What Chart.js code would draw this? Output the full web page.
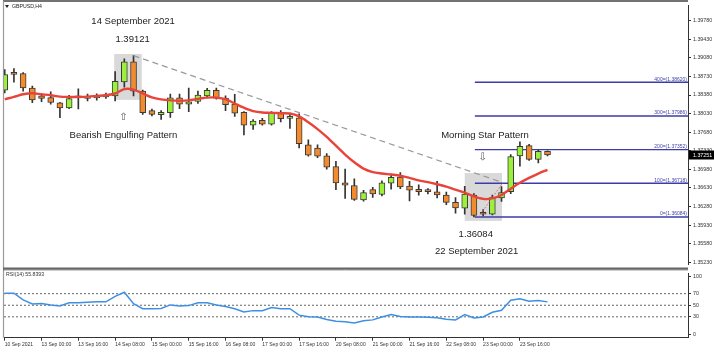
<!DOCTYPE html>
<html lang="en">
<head>
<meta charset="UTF-8">
<title>GBPUSD H4</title>
<script src="https://cdn.jsdelivr.net/npm/chart.js"></script>
<style>
    body {
        margin: 0;
        background: #fff;
        width: 714px;
        height: 353px;
        overflow: hidden;
        position: relative;
    }
    #mainChart { position: absolute; left: 0; top: 0; }
    #rsiChart { position: absolute; left: 0; top: 268px; }
</style>
</head>
<body>
<canvas id="mainChart" width="714" height="270"></canvas>
<canvas id="rsiChart" width="714" height="85"></canvas>

<script>
// ---- data (60 candles) ----
const opens = [1.38473,1.38777,1.38786,1.38510,1.38363,1.38332,1.38234,1.38137,1.38345,1.38317,
    1.38326,1.38372,1.38363,1.38629,1.39006,1.38455,1.38087,1.38008,1.38050,1.38326,
    1.38210,1.38258,1.38363,1.38468,1.38321,1.38210,1.38056,1.37812,1.37903,1.37830,
    1.38056,1.37940,1.37953,1.37444,1.37383,1.37233,1.37034,1.36727,1.36677,1.36405,
    1.36598,1.36507,1.36722,1.36837,1.36666,1.36604,1.36571,1.36556,1.36497,1.36360,
    1.36249,1.36494,1.36139,1.36139,1.36442,1.36562,1.37233,1.37426,1.37168,1.37321];
const highs = [1.38859,1.38878,1.38804,1.38547,1.38394,1.38442,1.38243,1.38376,1.38497,1.38400,
    1.38405,1.38418,1.38822,1.39061,1.39121,1.38473,1.38115,1.38087,1.38400,1.38400,
    1.38510,1.38455,1.38504,1.38510,1.38363,1.38394,1.38069,1.37916,1.37940,1.38069,
    1.38087,1.38027,1.38027,1.37536,1.37444,1.37278,1.37131,1.36984,1.36801,1.36586,
    1.36644,1.36764,1.36893,1.36920,1.36755,1.36690,1.36617,1.36755,1.36553,1.36451,
    1.36663,1.36525,1.36222,1.36497,1.36654,1.37260,1.37499,1.37453,1.37343,1.37328];
const lows = [1.38418,1.38620,1.38455,1.38234,1.38253,1.38210,1.37953,1.38124,1.38118,1.38271,
    1.38284,1.38317,1.38271,1.38528,1.38363,1.38014,1.37986,1.37922,1.37959,1.38124,
    1.38069,1.38221,1.38345,1.38302,1.38087,1.37977,1.37628,1.37733,1.37812,1.37812,
    1.37872,1.37751,1.37383,1.37229,1.37199,1.36984,1.36598,1.36433,1.36396,1.36383,
    1.36451,1.36479,1.36608,1.36617,1.36387,1.36494,1.36516,1.36442,1.36314,1.36157,
    1.36139,1.36084,1.36102,1.36121,1.36378,1.36525,1.37040,1.37150,1.37104,1.37233];
const closes = [1.38767,1.38770,1.38515,1.38289,1.38317,1.38240,1.38137,1.38313,1.38326,1.38345,
    1.38363,1.38345,1.38639,1.39006,1.38455,1.38050,1.38014,1.38056,1.38326,1.38210,
    1.38253,1.38381,1.38468,1.38321,1.38198,1.38038,1.37812,1.37891,1.37830,1.38056,
    1.37935,1.37953,1.37462,1.37247,1.37229,1.37021,1.36727,1.36681,1.36415,1.36543,
    1.36516,1.36727,1.36832,1.36648,1.36589,1.36562,1.36562,1.36501,1.36360,1.36255,
    1.36516,1.36111,1.36135,1.36451,1.36543,1.37223,1.37413,1.37168,1.37321,1.37251];
const maValues = [1.38302,1.38345,1.38394,1.38413,1.38394,1.38376,1.38350,1.38345,1.38345,1.38350,
    1.38363,1.38376,1.38409,1.38492,1.38482,1.38409,1.38335,1.38299,1.38280,1.38271,
    1.38280,1.38308,1.38332,1.38332,1.38302,1.38221,1.38142,1.38078,1.38050,1.38045,
    1.38038,1.38032,1.37977,1.37867,1.37738,1.37591,1.37426,1.37260,1.37113,1.36994,
    1.36929,1.36902,1.36883,1.36861,1.36819,1.36773,1.36740,1.36700,1.36654,1.36598,
    1.36543,1.36470,1.36424,1.36433,1.36497,1.36617,1.36727,1.36819,1.36902,1.36972];
const rsiValues = [70.8,70.8,59.3,52.2,53.2,50.6,48.9,54.4,54.4,55.2,
    56.0,56.0,65.4,72.5,52.7,44.0,44.0,44.5,50.6,48.9,
    49.4,54.4,54.4,50.6,47.8,44.0,38.4,40.7,40.7,46.1,
    44.0,44.0,32.9,30.1,29.7,25.5,22.2,21.4,19.3,23.1,
    24.7,29.7,34.1,30.5,29.7,29.7,29.3,28.3,25.9,24.7,
    33.8,28.0,29.7,37.9,41.2,58.8,61.4,56.8,58.2,55.8393];

const xTickBars = [0,4,8,12,16,20,24,28,32,36,40,44,48,52,56];
const xTickLabels = ['10 Sep 2021','13 Sep 00:00','13 Sep 16:00','14 Sep 08:00','15 Sep 00:00',
    '15 Sep 16:00','16 Sep 08:00','17 Sep 00:00','17 Sep 16:00','20 Sep 08:00','21 Sep 00:00',
    '21 Sep 16:00','22 Sep 08:00','23 Sep 00:00','23 Sep 16:00'];
const priceTicks = [1.35230,1.35580,1.35930,1.36280,1.36630,1.36980,1.37330,1.37680,
    1.38030,1.38380,1.38730,1.39080,1.39430,1.39780];
const rsiTicks = [0,30,50,70,100];
const rsiLevels = [70,50,30];

const fibLevels = [0,100,200,300,400];
const fibPrices = [1.36084,1.36718,1.37352,1.37986,1.38620];
const fibStartBar = 51.1;
const fibAnchorBars = [51.5,54.1];
const fibAnchorPrices = [1.36084,1.36718];
const trendBars = [14,54.2];
const trendPrices = [1.39121,1.36727];
const lastPrice = 1.37251;
const rsiLast = '55.8393';

// axis ranges
const xMin = -0.08, xMax = 74.27;
const priceMin = 1.35183, priceMax = 1.40072;
const rsiMin = -6.1, rsiMax = 105.44;

const bullColor = '#9cf03c';
const bearColor = '#f28a2e';
const FONT = '"Liberation Sans", Arial, sans-serif';

// pattern boxes and texts, placed in bar / price units
const patternBoxes = [
    { from: 11.9, to: 14.9, top: 1.39153, bottom: 1.38289 },
    { from: 50.0, to: 54.05, top: 1.36911, bottom: 1.36010 }
];
const notes = [
    { text: '14 September 2021', bar: 13.95, price: 1.39760, size: 9.5 },
    { text: '1.39121', bar: 13.9, price: 1.39423, size: 9.5 },
    { text: '\u21E7', bar: 12.9, price: 1.37964, size: 10, arrow: true },
    { text: 'Bearish Engulfing Pattern', bar: 12.9, price: 1.37628, size: 9.5 },
    { text: 'Morning Star Pattern', bar: 52.2, price: 1.37628, size: 9.5 },
    { text: '\u21E9', bar: 51.95, price: 1.37210, size: 10, arrow: true },
    { text: '1.36084', bar: 51.2, price: 1.35753, size: 9.5 },
    { text: '22 September 2021', bar: 51.3, price: 1.35441, size: 9.5 }
];

function hline(ctx, x0, y0, x1, y1) {
    ctx.beginPath();
    ctx.moveTo(x0, y0);
    ctx.lineTo(x1, y1);
    ctx.stroke();
}

const mainOverlay = {
    id: 'mainOverlay',
    beforeDatasetsDraw(chart) {
        const { ctx, scales: { x, y } } = chart;
        ctx.save();
        ctx.fillStyle = '#d9d9d9';
        patternBoxes.forEach(b => {
            const x0 = x.getPixelForValue(b.from), x1 = x.getPixelForValue(b.to);
            const y0 = y.getPixelForValue(b.top), y1 = y.getPixelForValue(b.bottom);
            ctx.fillRect(x0, y0, x1 - x0, y1 - y0);
        });
        ctx.restore();
    },
    afterDatasetsDraw(chart) {
        const { ctx, chartArea, scales: { x, y } } = chart;
        ctx.save();
        // fibo level captions
        ctx.font = '5px ' + FONT;
        ctx.fillStyle = '#3c3ca8';
        ctx.textAlign = 'right';
        ctx.textBaseline = 'bottom';
        fibLevels.forEach((lv, i) => {
            ctx.fillText(lv + '=(' + fibPrices[i].toFixed(5) + ')', chartArea.right - 1, y.getPixelForValue(fibPrices[i]) - 0.5);
        });
        // annotation texts
        ctx.textAlign = 'center';
        ctx.textBaseline = 'middle';
        notes.forEach(n => {
            ctx.font = n.size + 'px ' + (n.arrow ? '"DejaVu Sans"' : FONT);
            ctx.fillStyle = n.arrow ? '#555' : '#222';
            ctx.fillText(n.text, x.getPixelForValue(n.bar), y.getPixelForValue(n.price));
        });
        // symbol caption
        ctx.fillStyle = '#222';
        ctx.beginPath();
        ctx.moveTo(5, 5); ctx.lineTo(9, 5); ctx.lineTo(7, 8); ctx.closePath();
        ctx.fill();
        ctx.font = '5.2px ' + FONT;
        ctx.textAlign = 'left';
        ctx.fillText('GBPUSD,H4', 12, 6.8);
        ctx.restore();
    },
    afterDraw(chart) {
        const { ctx, chartArea, scales: { y } } = chart;
        ctx.save();
        ctx.lineWidth = 1.5;
        ctx.strokeStyle = '#444';
        hline(ctx, 3, 1, chartArea.right, 1);
        ctx.strokeStyle = '#9a9a9a';
        ctx.lineWidth = 1.2;
        hline(ctx, 3.5, 1, 3.5, 268);
        ctx.strokeStyle = '#666';
        ctx.lineWidth = 1.5;
        hline(ctx, 3, 268.2, chartArea.right, 268.2);
        // current price tag
        const py = y.getPixelForValue(lastPrice);
        ctx.fillStyle = '#000';
        ctx.fillRect(chartArea.right + 1, py - 4.5, 25, 9);
        ctx.fillStyle = '#fff';
        ctx.font = '5.3px ' + FONT;
        ctx.textAlign = 'left';
        ctx.textBaseline = 'middle';
        ctx.fillText(lastPrice.toFixed(5), chartArea.right + 5, py + 0.3);
        ctx.restore();
    }
};

const rsiOverlay = {
    id: 'rsiOverlay',
    afterDraw(chart) {
        const { ctx, chartArea } = chart;
        ctx.save();
        ctx.strokeStyle = '#9a9a9a';
        ctx.lineWidth = 1.2;
        hline(ctx, 3.5, 1.5, 3.5, chartArea.bottom);
        ctx.strokeStyle = '#555';
        ctx.lineWidth = 1;
        hline(ctx, 3, 1.8, chartArea.right, 1.8);
        ctx.fillStyle = '#333';
        ctx.font = '5.2px ' + FONT;
        ctx.textBaseline = 'middle';
        ctx.fillText('RSI(14) ' + rsiLast, 6, 6.5);
        ctx.restore();
    }
};

const idx = opens.map((o, i) => i);

const fibDatasets = fibPrices.map(p => ({
    type: 'line',
    data: [{ x: fibStartBar, y: p }, { x: xMax, y: p }],
    borderColor: '#3c3ca8',
    borderWidth: 1.4,
    pointRadius: 0,
    order: 6
}));

const mainChart = new Chart(document.getElementById('mainChart').getContext('2d'), {
    type: 'line',
    data: {
        datasets: [
            {
                type: 'bar',
                data: idx.map(i => ({ x: i, y: [lows[i], highs[i]] })),
                backgroundColor: '#333',
                barThickness: 1,
                grouped: false,
                order: 5
            },
            {
                type: 'bar',
                data: idx.map(i => ({ x: i, y: [opens[i], closes[i]] })),
                backgroundColor: idx.map(i => closes[i] >= opens[i] ? bullColor : bearColor),
                borderColor: '#3a3a3a',
                borderWidth: 1,
                borderSkipped: false,
                barThickness: 6,
                minBarLength: 2,
                grouped: false,
                order: 4
            },
            {
                type: 'line',
                data: idx.map(i => ({ x: i, y: maValues[i] })),
                borderColor: '#e8443a',
                borderWidth: 2.4,
                pointRadius: 0,
                tension: 0.3,
                order: 2
            },
            {
                type: 'line',
                data: trendBars.map((b, i) => ({ x: b, y: trendPrices[i] })),
                borderColor: '#9a9a9a',
                borderWidth: 1.2,
                borderDash: [6, 4],
                pointRadius: 0,
                order: 1
            },
            {
                type: 'line',
                data: fibAnchorBars.map((b, i) => ({ x: b, y: fibAnchorPrices[i] })),
                borderColor: '#e06060',
                borderWidth: 1,
                borderDash: [1.5, 2],
                pointRadius: 0,
                order: 1
            },
            ...fibDatasets
        ]
    },
    options: {
        responsive: false,
        animation: false,
        events: [],
        layout: { padding: { left: 4, top: 2, right: 0, bottom: 2 } },
        plugins: { legend: { display: false }, tooltip: { enabled: false } },
        scales: {
            x: { type: 'linear', min: xMin, max: xMax, display: false, offset: false },
            y: {
                type: 'linear',
                position: 'right',
                min: priceMin,
                max: priceMax,
                afterBuildTicks: s => { s.ticks = priceTicks.map(v => ({ value: v })); },
                afterFit: s => { s.width = 26; },
                ticks: {
                    autoSkip: false,
                    padding: 2,
                    color: '#333',
                    font: { family: FONT, size: 5.3 },
                    callback: v => v.toFixed(5)
                },
                grid: { drawOnChartArea: false, tickLength: 3, color: '#333' },
                border: { display: true, color: '#333', width: 1 }
            }
        }
    },
    plugins: [mainOverlay]
});

const rsiChart = new Chart(document.getElementById('rsiChart').getContext('2d'), {
    type: 'line',
    data: {
        datasets: [
            {
                data: idx.map(i => ({ x: i, y: rsiValues[i] })),
                borderColor: '#3d8fe6',
                borderWidth: 1.5,
                pointRadius: 0,
                order: 1
            },
            ...rsiLevels.map(lv => ({
                data: [{ x: xMin, y: lv }, { x: xMax, y: lv }],
                borderColor: '#666',
                borderWidth: 1,
                borderDash: [2, 2],
                pointRadius: 0,
                order: 2
            }))
        ]
    },
    options: {
        responsive: false,
        animation: false,
        events: [],
        layout: { padding: { left: 4, top: 2, right: 0, bottom: 0 } },
        plugins: { legend: { display: false }, tooltip: { enabled: false } },
        scales: {
            x: {
                type: 'linear',
                min: xMin,
                max: xMax,
                offset: false,
                afterBuildTicks: s => { s.ticks = xTickBars.map(v => ({ value: v })); },
                afterFit: s => { s.height = 15.3; },
                ticks: {
                    autoSkip: false,
                    maxRotation: 0,
                    align: 'start',
                    padding: 1,
                    color: '#333',
                    font: { family: FONT, size: 5 },
                    callback: v => xTickLabels[xTickBars.indexOf(v)]
                },
                grid: { drawOnChartArea: false, tickLength: 3, color: '#333' },
                border: { display: true, color: '#333', width: 1 }
            },
            y: {
                type: 'linear',
                position: 'right',
                min: rsiMin,
                max: rsiMax,
                afterBuildTicks: s => { s.ticks = rsiTicks.map(v => ({ value: v })); },
                afterFit: s => { s.width = 26; },
                ticks: {
                    autoSkip: false,
                    padding: 2,
                    color: '#333',
                    font: { family: FONT, size: 5.3 }
                },
                grid: { drawOnChartArea: false, tickLength: 3, color: '#333' },
                border: { display: true, color: '#333', width: 1 }
            }
        }
    },
    plugins: [rsiOverlay]
});
</script>
</body>
</html>
